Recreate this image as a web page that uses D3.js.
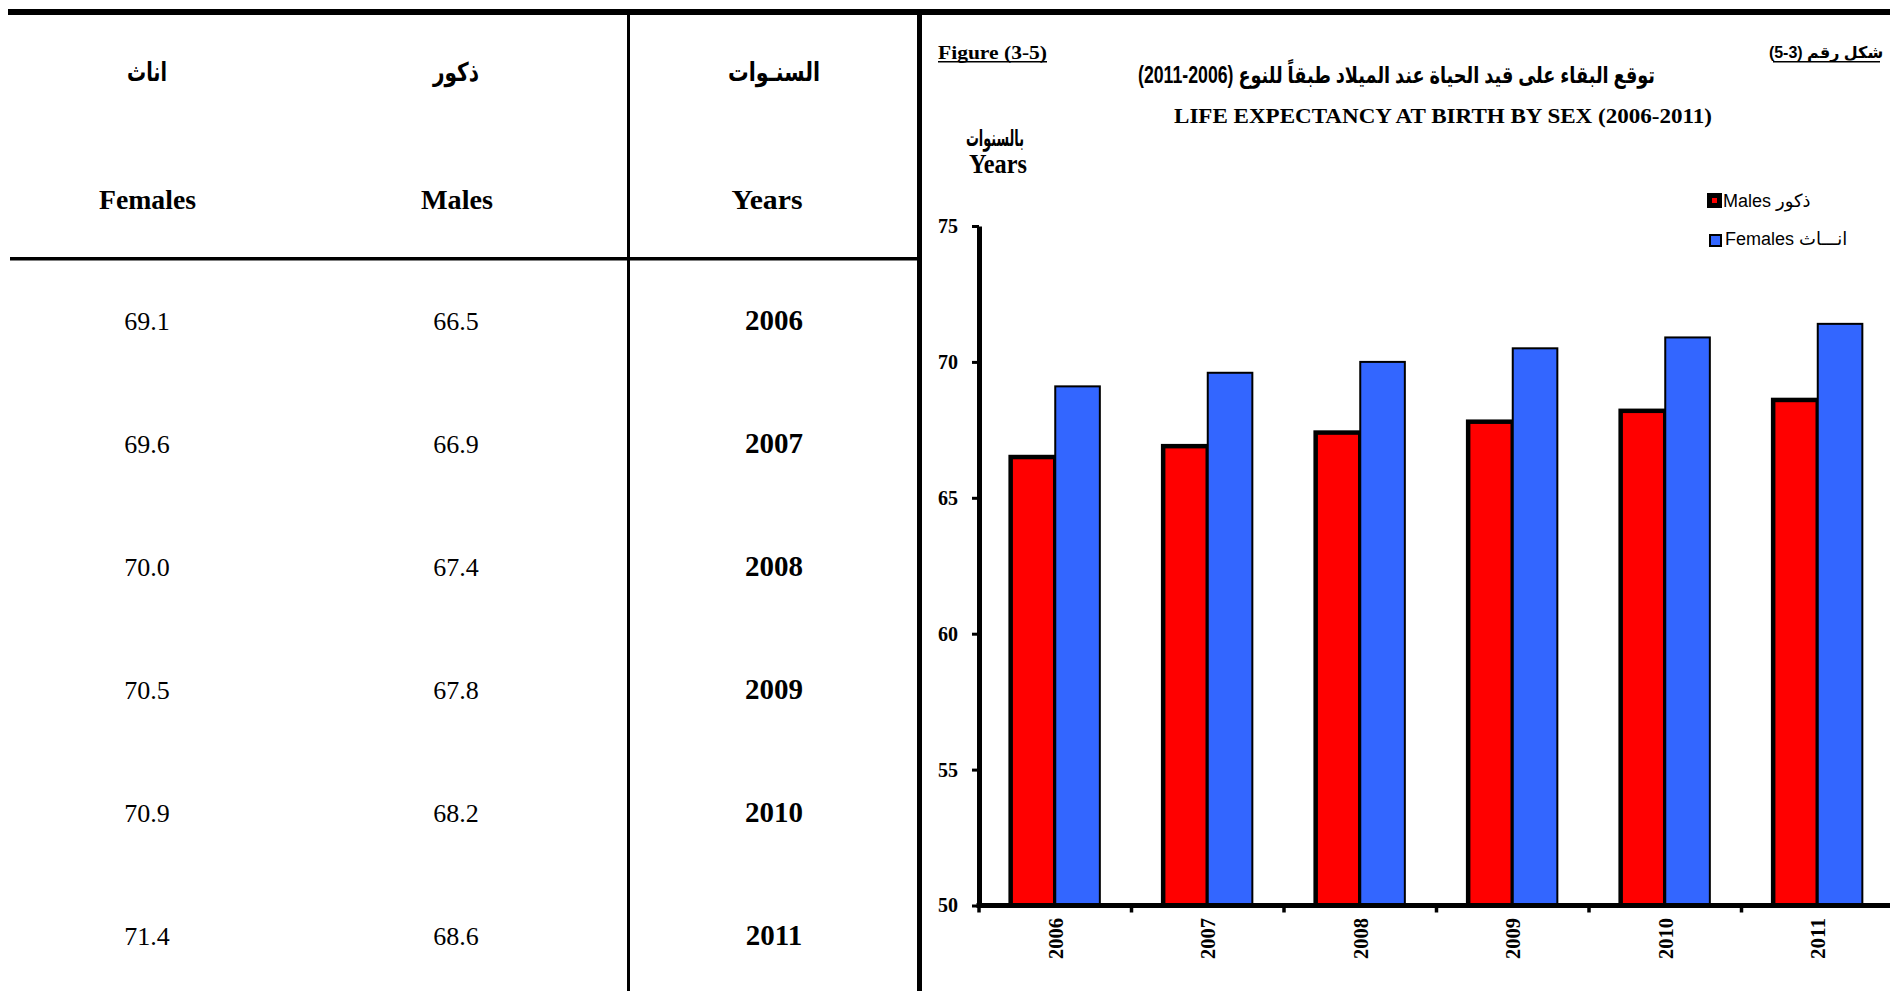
<!DOCTYPE html>
<html lang="ar">
<head>
    <meta charset="UTF-8">
    <title>Life Expectancy at Birth by Sex</title>
    <style>
        body { margin: 0; background: #fff; }
        svg { display: block; }
    </style>
</head>
<body>
    <div id="chart"></div>

    <script src="https://d3js.org/d3.v7.min.js"></script>
    <script type="text/javascript">
const years = ["2006", "2007", "2008", "2009", "2010", "2011"];
const males = [66.5, 66.9, 67.4, 67.8, 68.2, 68.6];
const females = [69.1, 69.6, 70.0, 70.5, 70.9, 71.4];
const yTicks = [50, 55, 60, 65, 70, 75];

const headAr = ["اناث", "ذكور", "السنـوات"];
const headEn = ["Females", "Males", "Years"];
const legendLabels = ["Males ذكور", "Females انـــاث"];

const serif = "'Liberation Serif', 'Times New Roman', serif";
const sans = "'Liberation Sans', Arial, 'DejaVu Sans', sans-serif";
const arab = "'DejaVu Sans', 'Liberation Sans', sans-serif";

const svg = d3.select("#chart")
    .append("svg")
    .attr("width", 1890)
    .attr("height", 991);

// ---------- table (left side) ----------
const colX = [147, 456, 774];      // Females, Males, Years columns
const headEnX = [147.5, 457, 767];
const headArW = [40, 46, 92];
const headEnW = [97, 72, 71];

svg.append("rect").attr("x", 8).attr("y", 9).attr("width", 1882).attr("height", 6).attr("fill", "#000");
svg.append("rect").attr("x", 917).attr("y", 9).attr("width", 5).attr("height", 982).attr("fill", "#000");
svg.append("rect").attr("x", 627).attr("y", 15).attr("width", 3).attr("height", 976).attr("fill", "#000");
svg.append("rect").attr("x", 10).attr("y", 257).attr("width", 909).attr("height", 3.5).attr("fill", "#000");

svg.selectAll(".head-ar")
    .data(headAr)
    .enter()
    .append("text")
    .attr("class", "head-ar")
    .attr("x", (d, i) => colX[i])
    .attr("y", 81)
    .attr("text-anchor", "middle")
    .attr("textLength", (d, i) => headArW[i])
    .attr("lengthAdjust", "spacingAndGlyphs")
    .style("font-family", arab)
    .style("font-weight", "bold")
    .style("font-size", "26px")
    .text(d => d);

svg.selectAll(".head-en")
    .data(headEn)
    .enter()
    .append("text")
    .attr("class", "head-en")
    .attr("x", (d, i) => headEnX[i])
    .attr("y", 209)
    .attr("text-anchor", "middle")
    .attr("textLength", (d, i) => headEnW[i])
    .attr("lengthAdjust", "spacingAndGlyphs")
    .style("font-family", serif)
    .style("font-weight", "bold")
    .style("font-size", "28px")
    .text(d => d);

const rowY = d3.scaleLinear().domain([0, 5]).range([330, 944.75]);
const fmt = d3.format(".1f");

const rows = svg.selectAll(".row")
    .data(years)
    .enter()
    .append("g")
    .attr("class", "row")
    .attr("transform", (d, i) => `translate(0,${rowY(i)})`);

rows.append("text")
    .attr("x", colX[0])
    .attr("text-anchor", "middle")
    .style("font-family", serif)
    .style("font-size", "26px")
    .text((d, i) => fmt(females[i]));

rows.append("text")
    .attr("x", colX[1])
    .attr("text-anchor", "middle")
    .style("font-family", serif)
    .style("font-size", "26px")
    .text((d, i) => fmt(males[i]));

rows.append("text")
    .attr("x", colX[2])
    .attr("text-anchor", "middle")
    .style("font-family", serif)
    .style("font-weight", "bold")
    .style("font-size", "29px")
    .text(d => d);

// ---------- chart (right side) ----------
const y = d3.scaleLinear().domain([50, 75]).range([905.5, 226]);
const x0 = d3.scaleBand().domain(years).range([979, 1894]);
const x1 = d3.scaleBand().domain(["males", "females"]).range([0, x0.bandwidth()]).paddingOuter(0.71);

// titles
svg.append("text")
    .attr("x", 938).attr("y", 59)
    .attr("textLength", 109).attr("lengthAdjust", "spacingAndGlyphs")
    .style("font-family", serif).style("font-weight", "bold").style("font-size", "19px")
    .text("Figure (3-5)");
svg.append("rect").attr("x", 938).attr("y", 61).attr("width", 109).attr("height", 1.5).attr("fill", "#000");

svg.append("text")
    .attr("x", 1826).attr("y", 58)
    .attr("direction", "rtl")
    .attr("text-anchor", "middle")
    .style("font-family", sans).style("font-weight", "bold").style("font-size", "16px")
    .text("شكل رقم (3-5)");
svg.append("rect").attr("x", 1773).attr("y", 61).attr("width", 107).attr("height", 1.5).attr("fill", "#000");

svg.append("text")
    .attr("x", 1396.5).attr("y", 83)
    .attr("direction", "rtl")
    .attr("text-anchor", "middle")
    .attr("textLength", 517).attr("lengthAdjust", "spacingAndGlyphs")
    .style("font-family", sans).style("font-weight", "bold").style("font-size", "23px")
    .text("توقع البقاء على قيد الحياة عند الميلاد طبقاً للنوع (2006-2011)");

svg.append("text")
    .attr("x", 1443).attr("y", 123)
    .attr("text-anchor", "middle")
    .attr("textLength", 538).attr("lengthAdjust", "spacingAndGlyphs")
    .style("font-family", serif).style("font-weight", "bold").style("font-size", "22px")
    .text("LIFE EXPECTANCY  AT BIRTH BY SEX (2006-2011)");

// y axis unit label
svg.append("text")
    .attr("x", 995).attr("y", 146)
    .attr("text-anchor", "middle")
    .attr("textLength", 58).attr("lengthAdjust", "spacingAndGlyphs")
    .style("font-family", arab).style("font-weight", "bold").style("font-size", "23px")
    .text("بالسنوات");
svg.append("text")
    .attr("x", 998).attr("y", 173)
    .attr("text-anchor", "middle")
    .attr("textLength", 58).attr("lengthAdjust", "spacingAndGlyphs")
    .style("font-family", serif).style("font-weight", "bold").style("font-size", "28px")
    .text("Years");

// bars
const groups = svg.selectAll(".year")
    .data(years)
    .enter()
    .append("g")
    .attr("class", "year")
    .attr("transform", d => `translate(${x0(d)},0)`);

groups.append("rect")
    .attr("x", x1("males"))
    .attr("y", (d, i) => y(males[i]))
    .attr("width", x1.bandwidth())
    .attr("height", (d, i) => y(50) - y(males[i]))
    .attr("fill", "#FF0000")
    .attr("stroke", "#000")
    .attr("stroke-width", 4.5);

groups.append("rect")
    .attr("x", x1("females"))
    .attr("y", (d, i) => y(females[i]))
    .attr("width", x1.bandwidth())
    .attr("height", (d, i) => y(50) - y(females[i]))
    .attr("fill", "#3366FF")
    .attr("stroke", "#000")
    .attr("stroke-width", 2);

// y axis
const yAxis = svg.append("g")
    .attr("transform", "translate(979,0)")
    .call(d3.axisLeft(y).tickValues(yTicks).tickSize(7).tickSizeOuter(0).tickPadding(14));
yAxis.select(".domain").attr("stroke-width", 5);
yAxis.selectAll(".tick line").attr("stroke-width", 3);
yAxis.selectAll(".tick text")
    .style("font-family", serif)
    .style("font-weight", "bold")
    .style("font-size", "20px")
    .attr("fill", "#000");

// x axis: thick line, ticks at band boundaries, rotated labels
svg.append("line")
    .attr("x1", 976.5).attr("x2", 1894)
    .attr("y1", y(50)).attr("y2", y(50))
    .attr("stroke", "#000").attr("stroke-width", 5);

svg.selectAll(".xtick")
    .data(years)
    .enter()
    .append("line")
    .attr("class", "xtick")
    .attr("x1", d => x0(d)).attr("x2", d => x0(d))
    .attr("y1", y(50)).attr("y2", y(50) + 7)
    .attr("stroke", "#000").attr("stroke-width", 3.5);

svg.selectAll(".xlabel")
    .data(years)
    .enter()
    .append("text")
    .attr("class", "xlabel")
    .attr("transform", d => `translate(${x0(d) + x0.bandwidth() / 2},918) rotate(-90)`)
    .attr("dy", "0.35em")
    .attr("text-anchor", "end")
    .attr("textLength", 41).attr("lengthAdjust", "spacingAndGlyphs")
    .style("font-family", serif).style("font-weight", "bold").style("font-size", "21px")
    .text(d => d);

// legend
const legendColors = ["#FF0000", "#3366FF"];
const legend = svg.selectAll(".legend")
    .data(legendLabels)
    .enter()
    .append("g")
    .attr("class", "legend");

legend.append("rect")
    .attr("x", (d, i) => i === 0 ? 1709.5 : 1710)
    .attr("y", (d, i) => i === 0 ? 195.5 : 235)
    .attr("width", (d, i) => i === 0 ? 10 : 11)
    .attr("height", (d, i) => i === 0 ? 10 : 11)
    .attr("fill", (d, i) => legendColors[i])
    .attr("stroke", "#000")
    .attr("stroke-width", (d, i) => i === 0 ? 5 : 2);

legend.append("text")
    .attr("x", (d, i) => i === 0 ? 1723 : 1725)
    .attr("y", (d, i) => i === 0 ? 207 : 245)
    .style("font-family", sans)
    .style("font-size", "18px")
    .text(d => d);
    </script>
</body>
</html>
